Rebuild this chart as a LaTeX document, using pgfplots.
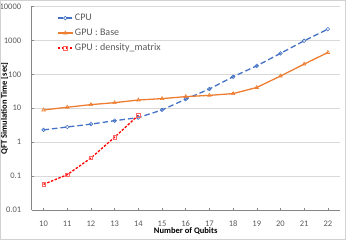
\documentclass[border=0pt]{standalone}
\usepackage{fontspec}
\setmainfont{Carlito}
\usepackage{pgfplots}
\pgfplotsset{compat=1.18}
\definecolor{cpublue}{HTML}{4472C4}
\definecolor{gpuorange}{HTML}{ED7D31}
\definecolor{dmred}{HTML}{FF0000}
\definecolor{tickgray}{HTML}{595959}
\definecolor{gridgray}{HTML}{D9D9D9}
\definecolor{axisgray}{HTML}{868686}
\begin{document}
\begin{tikzpicture}
\begin{axis}[
  at={(0pt,0pt)}, anchor=south west,
  scale only axis,
  width=308pt, height=203.5pt,
  xmin=9.5, xmax=22.5,
  ymode=log, ymin=0.01, ymax=10000,
  xtick={10,...,22},
  ytick={0.01,0.1,1,10,100,1000,10000},
  yticklabels={0.01,0.1,1,10,100,1000,10000},
  log basis y=10,
  /pgf/number format/assume math mode=true,
  tick label style={font=\fontsize{8.5}{10}\selectfont, text=tickgray},
  xticklabel style={yshift=-7.2pt},
  yticklabel style={xshift=-7pt},
  ymajorgrids, major grid style={gridgray, line width=0.6pt},
  axis x line*=bottom, axis y line*=left,
  axis line style={axisgray, line width=0.6pt, -},
  every tick/.style={axisgray, line width=0.5pt},
  tick align=inside,
  major tick length=2.5pt, minor tick length=2pt,
  xlabel={\textbf{Number of Qubits}},
  ylabel={\textbf{QFT Simulation Time [sec]}},
  label style={font=\fontsize{8.5}{10}\selectfont},
  xlabel style={at={(axis description cs:0.5,0)}, anchor=center, yshift=-21.5pt},
  ylabel style={at={(axis description cs:-0.0883,0.5)}, anchor=center},
  legend style={at={(axis description cs:0.082,0.966)}, anchor=north west,
    draw=none, fill=none, font=\fontsize{10}{12}\selectfont, text=tickgray,
    row sep=6pt, inner sep=0pt,
    nodes={inner xsep=1.5pt, inner ysep=0pt, text height=7pt, text depth=2pt}},
  legend cell align=left,
  legend image code/.code={\draw[mark repeat=2,mark phase=2,#1] plot coordinates {(0pt,0pt) (7.5pt,0pt) (15pt,0pt)};},
]
\addplot[cpublue, line width=1.3pt, dash pattern=on 5.5pt off 3pt,
  mark=o, mark size=1.8pt, mark options={solid, line width=0.6pt, fill=white}]
  coordinates {(10,2.3) (11,2.8) (12,3.4) (13,4.3) (14,5.3) (15,8.9) (16,18.5) (17,37) (18,85) (19,178) (20,415) (21,975) (22,2150)};
\addlegendentry{CPU}
\addplot[gpuorange, line width=1.3pt,
  mark=triangle, mark size=2pt, mark options={solid, line width=0.6pt}]
  coordinates {(10,8.9) (11,10.7) (12,12.8) (13,14.6) (14,17.5) (15,19.2) (16,22) (17,24) (18,27) (19,41) (20,89) (21,200) (22,440)};
\addlegendentry{GPU : Base}
\addplot[dmred, line width=1.3pt, dash pattern=on 2.5pt off 1.5pt,
  mark=square, mark size=1.7pt, mark options={solid, line width=0.6pt, draw=red!60}]
  coordinates {(10,0.057) (11,0.11) (12,0.34) (13,1.4) (14,6.2)};
\addlegendentry{GPU : density\_matrix}
\end{axis}
\draw[gray!35, line width=0.8pt] (-31.3pt,-29.6pt) rectangle (313.9pt,209.6pt);
\pgfresetboundingbox
\useasboundingbox (-31.7pt,-30pt) rectangle (314.3pt,210pt);
\end{tikzpicture}
\end{document}
